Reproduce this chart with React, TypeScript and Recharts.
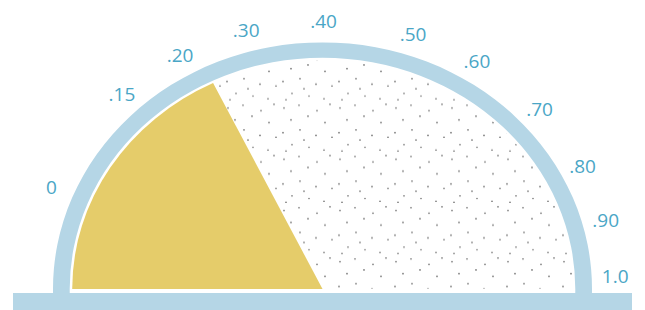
import { PieChart, Pie, Cell } from 'recharts';

// dial labels and where they sit along the half circle (degrees from the left end)
const tickLabels = ['0', '.15', '.20', '.30', '.40', '.50', '.60', '.70', '.80', '.90', '1.0'];
const tickArc = [22.3, 46.8, 60.9, 74.9, 90.2, 108.0, 121.8, 137.8, 152.6, 165.1, 177.3];

// share of the dial that is filled in
const filledShare = 0.356;

const RING = '#b5d6e6';
const GOLD = '#e5cc6a';
const LABEL = '#4aa6c6';
const K = 0.915; // the dial is a flattened half circle
const RADIAN = Math.PI / 180;
const CX = 322.5;
const CY = 289 / K;

const dialData = [
  { name: 'filled', value: filledShare },
  { name: 'rest', value: 1 - filledShare },
];

const tickData = tickLabels.map((name, i) => ({
  name,
  value: tickArc[i] - (i > 0 ? tickArc[i - 1] : 0),
}));

const ringData = [{ name: 'ring', value: 1 }];

// stipple tile, hand-scattered
const dots: [number, number][] = [
  [4, 6], [19, 3], [37, 9], [50, 2], [11, 19], [28, 15], [45, 22],
  [3, 33], [20, 30], [36, 36], [52, 38], [12, 46], [29, 49], [44, 52],
  [24, 41], [6, 53],
];

function TickLabel(props: any) {
  const { cx, cy, endAngle, index } = props;
  const r = 293;
  const x = cx + r * Math.cos(endAngle * RADIAN);
  const y = cy - r * Math.sin(endAngle * RADIAN);
  return (
    <text
      x={x}
      y={y}
      fill={LABEL}
      fontSize={19}
      fontFamily="'Open Sans', sans-serif"
      textAnchor="middle"
      dominantBaseline="central"
      transform={`translate(${x} ${y}) scale(1 ${1 / K}) translate(${-x} ${-y})`}
    >
      {tickLabels[index]}
    </text>
  );
}

export default function App() {
  const lastArc = tickArc[tickArc.length - 1];
  return (
    <div style={{ position: 'absolute', left: 0, top: 0, width: 645, height: 310, overflow: 'hidden', background: '#fff' }}>
      <div style={{ transform: `scaleY(${K})`, transformOrigin: '0 0', width: 645, height: 340 }}>
        <PieChart width={645} height={340} margin={{ top: 0, right: 0, bottom: 0, left: 0 }}>
          <defs>
            <pattern id="stipple" width={56} height={56} patternUnits="userSpaceOnUse">
              {dots.map(([x, y], i) => (
                <circle key={i} cx={x} cy={y} r={0.9} fill="#7d7d7d" />
              ))}
            </pattern>
          </defs>
          <Pie
            data={ringData}
            dataKey="value"
            cx={CX}
            cy={CY}
            startAngle={181}
            endAngle={-1}
            innerRadius={252.8}
            outerRadius={269.5}
            stroke="none"
            fill={RING}
            isAnimationActive={false}
          />
          <Pie
            data={dialData}
            dataKey="value"
            cx={CX}
            cy={CY}
            startAngle={180}
            endAngle={0}
            innerRadius={0}
            outerRadius={250.3}
            stroke="none"
            isAnimationActive={false}
          >
            <Cell fill={GOLD} />
            <Cell fill="url(#stipple)" />
          </Pie>
          <Pie
            data={tickData}
            dataKey="value"
            cx={CX}
            cy={CY}
            startAngle={180}
            endAngle={180 - lastArc}
            innerRadius={0}
            outerRadius={280}
            fill="none"
            stroke="none"
            label={TickLabel}
            labelLine={false}
            isAnimationActive={false}
          />
        </PieChart>
      </div>
      <div style={{ position: 'absolute', left: 13, top: 292.5, width: 619, height: 20, background: RING }} />
    </div>
  );
}
